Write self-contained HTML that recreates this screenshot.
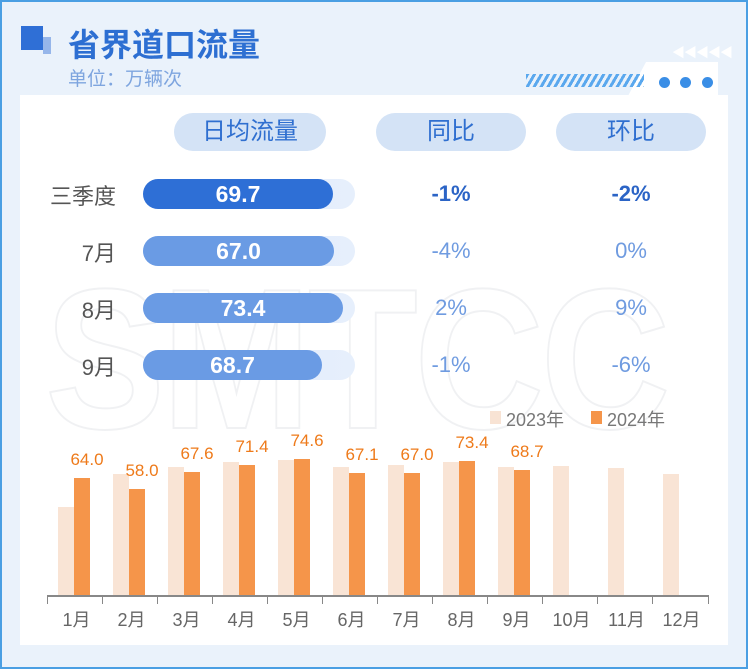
<!DOCTYPE html>
<html><head><meta charset="utf-8"><style>
*{margin:0;padding:0;box-sizing:border-box}
body{width:748px;height:669px;overflow:hidden;font-family:"Liberation Sans","Noto Sans CJK SC",sans-serif;background:#fff}
.frame{position:absolute;left:0;top:0;width:748px;height:669px;border:2px solid #4a9fe3;background:#eaf2fb}
.a{position:absolute}
.pill{position:absolute;top:113px;height:38px;border-radius:19px;background:#d4e3f6;color:#2f6fd0;font-size:24px;text-align:center;line-height:38px}
.lbl{position:absolute;width:100px;text-align:right;font-size:22px;color:#555;left:16px}
.track{position:absolute;left:143px;width:212px;height:30px;border-radius:15px;background:linear-gradient(90deg,#dfeafb,#e6effc)}
.fill{position:absolute;left:0;top:0;height:30px;border-radius:15px;background:#6a9be4;color:#fff;font-weight:bold;font-size:23px;text-align:center;line-height:30px}
.pct{position:absolute;width:150px;text-align:center;font-size:22px;color:#6f9be0}
.ml{position:absolute;top:606px;width:55px;text-align:center;font-size:18px;color:#666}
.v{position:absolute;width:60px;text-align:center;font-size:17px;color:#ee7a1a}
</style></head><body>
<div class="frame"></div>
<div class="a" style="left:20px;top:95px;width:708px;height:550px;background:#fff"></div>
<div class="a" style="left:628px;top:62px;width:90px;height:34px;background:#fff;clip-path:polygon(18px 0,90px 0,90px 34px,0 34px)"></div>
<div class="a" style="left:20px;top:95px;width:700px;height:550px;overflow:hidden">
<div class="a" style="left:25px;top:150px;font-size:200px;font-weight:bold;color:transparent;-webkit-text-stroke:2px #f0f1f3;letter-spacing:-4px;white-space:nowrap;transform:scaleX(0.9);transform-origin:0 0">SMTCC</div>
</div>
<div class="a" style="left:21px;top:26px;width:22px;height:24px;background:#2f6fd6"></div>
<div class="a" style="left:43px;top:37px;width:8px;height:17px;background:#96b6ea"></div>
<div class="a" style="left:68px;top:20px;font-size:32px;font-weight:bold;color:#2d6fd2">省界道口流量</div>
<div class="a" style="left:68px;top:64px;font-size:19px;color:#7ea5df">单位：万辆次</div>
<div class="a" style="left:672px;top:42px;font-size:13px;color:#fff;letter-spacing:-1px">◀◀◀◀◀</div>
<div class="a" style="left:526px;top:74px;width:118px;height:13px;background:repeating-linear-gradient(120deg,#5aa8ee 0 3px,transparent 3px 6px)"></div>
<div class="a" style="left:659px;top:77px;width:11px;height:11px;border-radius:50%;background:#3a8ee6"></div>
<div class="a" style="left:680px;top:77px;width:11px;height:11px;border-radius:50%;background:#3a8ee6"></div>
<div class="a" style="left:702px;top:77px;width:11px;height:11px;border-radius:50%;background:#3a8ee6"></div>
<div class="pill" style="left:174px;width:152px">日均流量</div>
<div class="pill" style="left:376px;width:150px">同比</div>
<div class="pill" style="left:556px;width:150px">环比</div>
<div class="lbl" style="top:179px">三季度</div>
<div class="lbl" style="top:236px">7月</div>
<div class="lbl" style="top:293px">8月</div>
<div class="lbl" style="top:350px">9月</div>
<div class="track" style="top:179px"><div class="fill" style="width:190px;background:#2e6fd6">69.7</div></div>
<div class="track" style="top:236px"><div class="fill" style="width:191px">67.0</div></div>
<div class="track" style="top:293px"><div class="fill" style="width:200px">73.4</div></div>
<div class="track" style="top:350px"><div class="fill" style="width:179px">68.7</div></div>
<div class="pct" style="left:376px;top:181px;color:#2b64c6;font-weight:bold">-1%</div>
<div class="pct" style="left:556px;top:181px;color:#2b64c6;font-weight:bold">-2%</div>
<div class="pct" style="left:376px;top:238px">-4%</div>
<div class="pct" style="left:556px;top:238px">0%</div>
<div class="pct" style="left:376px;top:295px">2%</div>
<div class="pct" style="left:556px;top:295px">9%</div>
<div class="pct" style="left:376px;top:352px">-1%</div>
<div class="pct" style="left:556px;top:352px">-6%</div>
<div class="a" style="left:490px;top:411px;width:11px;height:13px;background:#f8e3d4"></div>
<div class="a" style="left:506px;top:406px;font-size:18px;color:#777">2023年</div>
<div class="a" style="left:591px;top:411px;width:11px;height:13px;background:#f5954a"></div>
<div class="a" style="left:607px;top:406px;font-size:18px;color:#777">2024年</div>
<div id="c"></div>
<div class="a" style="left:47px;top:595px;width:661px;height:2px;background:#888"></div>
<script>
var a=[48.4,66.3,70,72.8,74,70,71,72.8,70,70.6,69.5,66.3],b=[64.0,58.0,67.6,71.4,74.6,67.1,67.0,73.4,68.7],h='';
for(var i=0;i<12;i++){var x=47+55*i;
h+='<div class="a" style="left:'+x+'px;top:595px;width:1px;height:9px;background:#888"></div>';
h+='<div class="ml" style="left:'+(x+2)+'px">'+(i+1)+'月</div>';
var t=596-a[i]*1.84;h+='<div class="a" style="left:'+(x+11)+'px;top:'+t+'px;width:16px;height:'+(596-t)+'px;background:#f9e4d5"></div>';
if(i<9){var t2=596-b[i]*1.84;h+='<div class="a" style="left:'+(x+27)+'px;top:'+t2+'px;width:16px;height:'+(596-t2)+'px;background:#f5954a"></div>';
h+='<div class="v" style="left:'+(x+5+27-22)+'px;top:'+(t2-28)+'px">'+b[i].toFixed(1)+'</div>';}}
h+='<div class="a" style="left:708px;top:595px;width:1px;height:9px;background:#888"></div>';
document.getElementById('c').innerHTML=h;
</script>
</body></html>
